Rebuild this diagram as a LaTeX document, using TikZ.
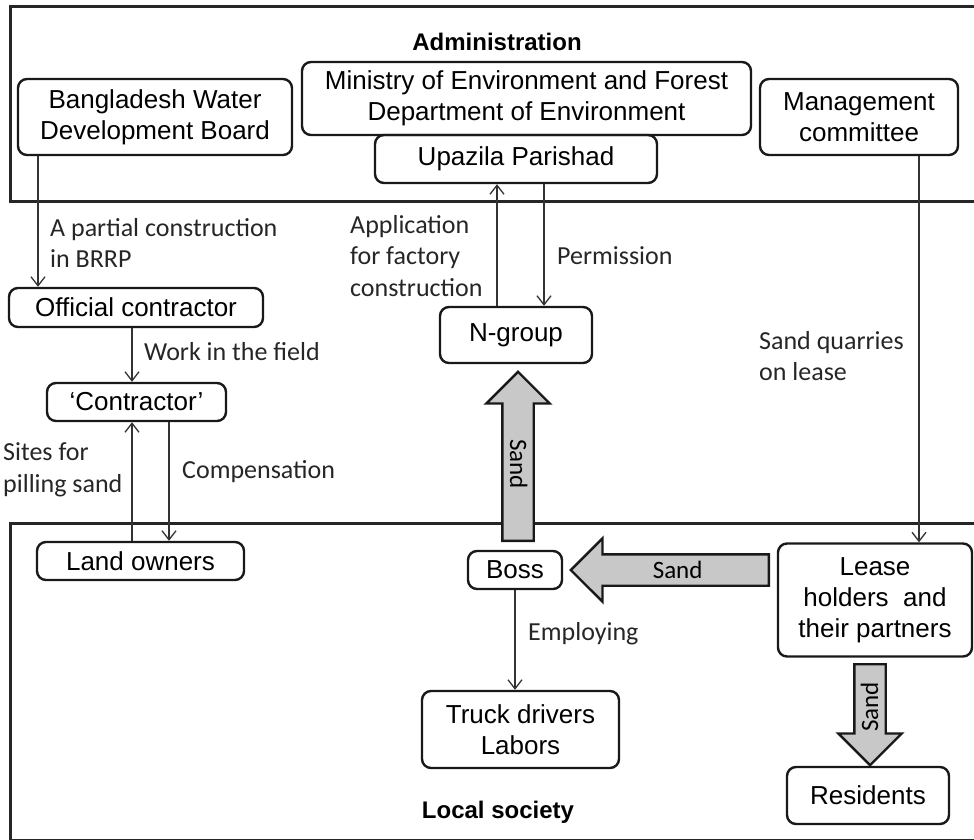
\documentclass[tikz,border=0pt]{standalone}
\usepackage{fontspec}
\setmainfont{Liberation Sans}
\newfontfamily\calibri{Carlito}
\usepackage{tikz}
\usetikzlibrary{arrows.meta}
\usetikzlibrary{shapes.arrows}
\definecolor{edgegray}{HTML}{333333}
\definecolor{sandgray}{HTML}{C8C8C8}
\tikzstyle{actor}=[rectangle,rounded corners=9pt,draw=black!90,line width=2.4pt,align=center,inner sep=0mm,font=\fontsize{26}{31}\selectfont]
\tikzstyle{flow}=[align=left,inner sep=0mm,anchor=west,text=black!85,font=\calibri\fontsize{26}{31.5}\selectfont]
\tikzstyle{region}=[draw=black!85,line width=3pt]
\tikzstyle{regionname}=[inner sep=0mm,font=\bfseries\fontsize{24}{28}\selectfont]
\tikzstyle{arrow}=[-{Straight Barb[length=9pt,width=14pt]},draw=edgegray,line width=1.3pt]
\tikzstyle{sand}=[single arrow,draw=black!90,fill=sandgray,line width=2.4pt,anchor=tail,shape border rotate=180,single arrow head extend=16pt,single arrow tip angle=90,inner xsep=0pt,inner ysep=6.5pt,text height=16pt,text depth=0pt,font=\calibri\fontsize{25}{28}\selectfont]
\tikzset{every picture/.style={
    x=1pt,y=-1pt
  }
}
\begin{document}
\begin{tikzpicture}
          \useasboundingbox (0,0) rectangle (974,840);
          \draw[region] (980,7) -- (10,7) -- (10,201) -- (980,201);
          \draw[region] (980,523) -- (10,523) -- (10,840) -- (980,840);
          \node[regionname] at (497,42) (admin) {Administration};
          \node[regionname] at (498,812) (local) {Local society};
          \node[actor, minimum width=274pt, minimum height=76pt] at (155,117) (bwdb) {Bangladesh Water\\Development Board};
          \node[actor, minimum width=282pt, minimum height=48pt] at (516,159) (upazila) {Upazila Parishad};
          \node[actor, minimum width=449pt, minimum height=73pt] at (526.5,98.5) (ministry) {Ministry of Environment and Forest\\Department of Environment};
          \node[actor, minimum width=198pt, minimum height=76pt] at (859,117) (mgmt) {Management\\committee};
          \node[actor, minimum width=254pt, minimum height=39pt] at (136,307.5) (official) {Official contractor};
          \node[actor, minimum width=179pt, minimum height=38pt] at (136.5,402) (contr) {‘Contractor’};
          \node[actor, minimum width=152pt, minimum height=56pt] at (516,335) (ngroup) {N-group};
          \node[actor, minimum width=207pt, minimum height=38pt] at (140.5,561) (land) {Land owners};
          \node[actor, minimum width=94pt, minimum height=38pt] at (515,570) (boss) {Boss};
          \node[actor, minimum width=194pt, minimum height=113pt] at (875,600) (lease) {Lease\\holders\ \ and\\their partners};
          \node[actor, minimum width=197pt, minimum height=77pt] at (520.5,729.5) (truck) {Truck drivers\\Labors};
          \node[actor, minimum width=162pt, minimum height=57pt] at (868,795.5) (resid) {Residents};
          \node[flow] at (50,243) (partial) {A partial construction\\in BRRP};
          \node[flow] at (144,352) (work) {Work in the field};
          \node[flow] at (3,470) (sites) {Sites for\\pilling sand};
          \node[flow] at (182,472) (comp) {Compensation};
          \node[flow] at (350,256) (appl) {Application\\for factory\\construction};
          \node[flow] at (557,256) (perm) {Permission};
          \node[flow] at (759,356) (quarry) {Sand quarries\\on lease};
          \node[flow] at (528,634) (employ) {Employing};
          \draw[arrow] (bwdb.south -| 38,0) -- (official.north -| 38,0);
          \draw[arrow] (official.south -| 132,0) -- (contr.north -| 132,0);
          \draw[arrow] (land.north -| 132,0) -- (contr.south -| 132,0);
          \draw[arrow] (contr.south -| 169,0) -- (land.north -| 169,0);
          \draw[arrow] (ngroup.north -| 497,0) -- (upazila.south -| 497,0);
          \draw[arrow] (upazila.south -| 544,0) -- (ngroup.north -| 544,0);
          \draw[arrow] (mgmt.south -| 919,0) -- (lease.north -| 919,0);
          \draw[arrow] (boss.south) -- (truck.north -| boss.south);
          \node[sand, rotate=-90, minimum height=169pt] at (518,542) (sandup) {Sand};
          \node[sand, minimum height=198pt] at (770,570) (sandleft) {Sand};
          \node[sand, rotate=90, minimum height=101pt] at (870,663) (sanddown) {Sand};
        \end{tikzpicture}
\end{document}
